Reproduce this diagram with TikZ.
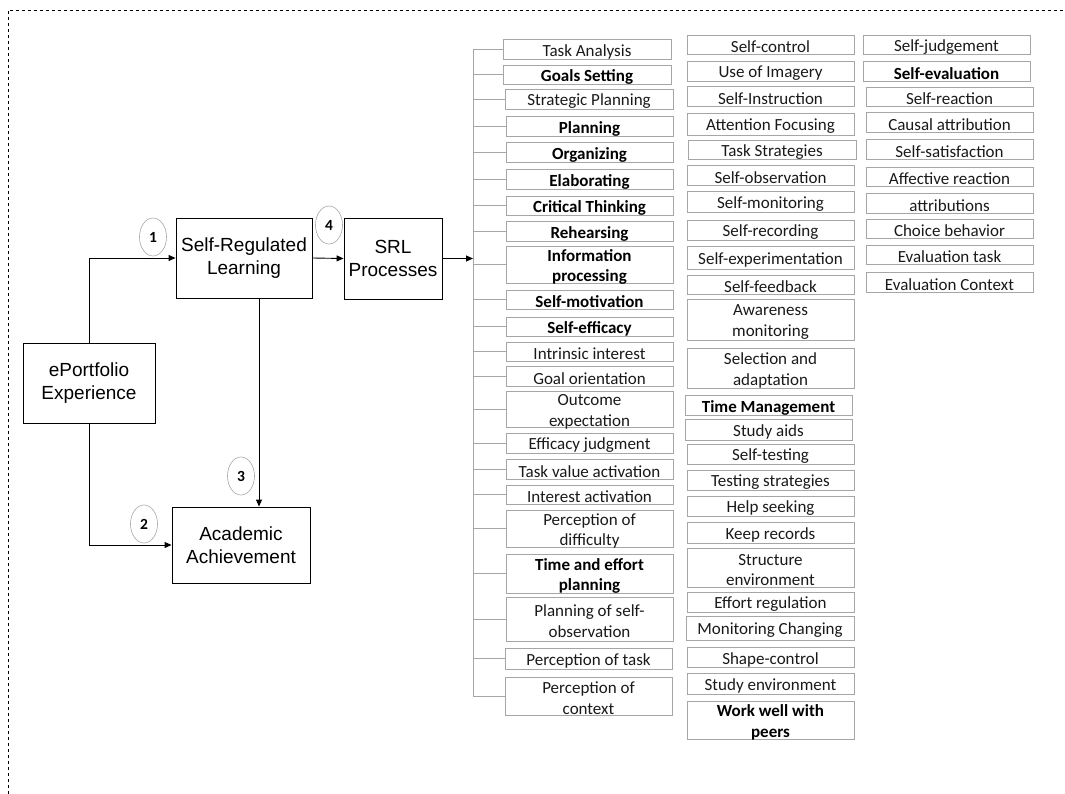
\documentclass[tikz,border=0pt]{standalone}
\usepackage{fontspec}
\usetikzlibrary{arrows.meta,shapes.geometric}
\newfontfamily\carlitofont{Carlito}
\newfontfamily\arialfont{Liberation Sans}

% box placed by its corners (x1,y1)-(x2,y2); its text is a node of its own,
% set a little lower so that the letters sit in the middle of the frame
\newcommand\entrybox[7][]{%
  \pgfmathsetmacro\ebcx{(#3+#5)/2}%
  \pgfmathsetmacro\ebcy{(#4+#6)/2}%
  \pgfmathsetmacro\ebw{#5-#3}%
  \pgfmathsetmacro\ebh{#6-#4}%
  \node[cbox,minimum width=\ebw pt,minimum height=\ebh pt] (#2) at (\ebcx,\ebcy) {};
  \node[ctext,#1] (#2t) at ([yshift=-2.5pt]#2.center) {#7};}

\begin{document}
\begin{tikzpicture}[x=1pt,y=-1pt,
  cbox/.style={draw=gray!70, line width=0.5pt, inner sep=0pt},
  ctext/.style={inner sep=0pt, align=center,
    font=\carlitofont\fontsize{17}{20.8}\selectfont, text=black!90},
  bf/.style={font=\carlitofont\bfseries\fontsize{17}{20.8}\selectfont, text=black},
  mbox/.style={draw, line width=0.9pt, align=center, inner sep=0pt,
    font=\arialfont\fontsize{19}{22.5}\selectfont},
  num/.style={ellipse, draw=gray!70, line width=0.6pt, minimum width=27pt,
    minimum height=38pt, inner sep=0pt, font=\carlitofont\bfseries\fontsize{15.5}{15.5}\selectfont},
  arr/.style={draw, line width=0.9pt, -{Triangle[length=7pt,width=6pt]}},
  stub/.style={draw=gray!70, line width=0.5pt}]
\useasboundingbox (0,0) rectangle (1065,794);

% frame
\draw[dashed, line width=0.6pt] (8,794) -- (8,10) -- (1063,10);

% main model
\node[mbox, minimum width=132pt, minimum height=80pt] (epf) at (89,383) {ePortfolio\\Experience};
\node[mbox, minimum width=136pt, minimum height=80pt] (srl) at (244,258) {Self-Regulated\\Learning};
\node[mbox, minimum width=98pt, minimum height=81pt] (srlp) at (393,258.5) {SRL\\Processes};
\node[mbox, minimum width=138pt, minimum height=76pt] (aca) at (241,545) {Academic\\Achievement};

\draw[arr] (epf.north) |- (srl.west);
\draw[arr] (epf.south) |- (aca.west);
\draw[arr] ([xshift=15pt]srl.south) -- ([xshift=15pt]srl.south |- aca.north);
\draw[arr] (srl.east) -- (srlp.west);

\node[num] (n1) at (153,237) {1};
\node[num] (n2) at (144,524) {2};
\node[num] (n3) at (241,476) {3};
\node[num] (n4) at (329,225) {4};

% first column
\entrybox{c1a}{503}{39}{671}{59}{Task Analysis}
\entrybox[bf]{c1b}{503}{65}{671}{84}{Goals Setting}
\entrybox{c1c}{505}{89}{673}{109}{Strategic Planning}
\entrybox[bf]{c1d}{506}{116}{673}{136}{Planning}
\entrybox[bf]{c1e}{506}{142}{673}{162}{Organizing}
\entrybox[bf]{c1f}{506}{169}{673}{189}{Elaborating}
\entrybox[bf]{c1g}{506}{196}{673}{215}{Critical Thinking}
\entrybox[bf]{c1h}{506}{221}{673}{241}{Rehearsing}
\entrybox[bf]{c1i}{506}{246}{673}{283}{Information\\processing}
\entrybox[bf]{c1j}{506}{290}{673}{309}{Self-motivation}
\entrybox[bf]{c1k}{506}{317}{673}{336}{Self-efficacy}
\entrybox{c1l}{506}{342}{673}{361}{Intrinsic interest}
\entrybox{c1m}{506}{366}{673}{386}{Goal orientation}
\entrybox{c1n}{506}{391}{673}{427}{Outcome\\expectation}
\entrybox{c1o}{506}{433}{673}{453}{Efficacy judgment}
\entrybox{c1p}{506}{459}{673}{479}{Task value activation}
\entrybox{c1q}{506}{485}{673}{504}{Interest activation}
\entrybox{c1r}{506}{510}{673}{547}{Perception of\\difficulty}
\entrybox[bf]{c1s}{506}{554}{673}{593}{Time and effort\\planning}
\entrybox{c1t}{506}{597}{673}{641}{Planning of self-\\observation}
\entrybox{c1u}{505}{648}{672}{669}{Perception of task}
\entrybox{c1v}{505}{677}{672}{715}{Perception of\\context}

% bracket joining the first column
\coordinate (sp) at (473,48);
\draw[stub] (sp |- c1a.west) -- (sp |- c1v.west);
\foreach \b in {c1a,c1b,c1c,c1d,c1e,c1f,c1g,c1h,c1i,c1j,c1k,c1l,c1m,c1n,c1o,c1p,c1q,c1r,c1s,c1t,c1u,c1v}
  \draw[stub] (sp |- \b.west) -- (\b.west);
\draw[arr] (srlp.east) -- (srlp.east -| sp);

% second column
\entrybox{c2a}{687}{35}{854}{54}{Self-control}
\entrybox{c2b}{687}{61}{854}{81}{Use of Imagery}
\entrybox{c2c}{687}{86}{854}{106}{Self-Instruction}
\entrybox{c2d}{687}{113}{854}{135}{Attention Focusing}
\entrybox{c2e}{688}{140}{856}{159}{Task Strategies}
\entrybox{c2f}{687}{165}{854}{185}{Self-observation}
\entrybox{c2g}{687}{191}{854}{212}{Self-monitoring}
\entrybox{c2h}{687}{220}{854}{240}{Self-recording}
\entrybox{c2i}{687}{246}{854}{269}{Self-experimentation}
\entrybox{c2j}{687}{275}{854}{294}{Self-feedback}
\entrybox{c2k}{687}{299}{854}{340}{Awareness\\monitoring}
\entrybox{c2l}{687}{348}{854}{388}{Selection and\\adaptation}
\entrybox[bf]{c2m}{685}{395}{852}{415}{Time Management}
\entrybox{c2n}{685}{419}{852}{440}{Study aids}
\entrybox{c2o}{687}{444}{854}{464}{Self-testing}
\entrybox{c2p}{687}{470}{854}{490}{Testing strategies}
\entrybox{c2q}{687}{496}{854}{516}{Help seeking}
\entrybox{c2r}{687}{522}{854}{543}{Keep records}
\entrybox{c2s}{687}{548}{854}{587}{Structure\\environment}
\entrybox{c2t}{687}{592}{854}{612}{Effort regulation}
\entrybox{c2u}{686}{616}{854}{640}{Monitoring Changing}
\entrybox{c2v}{687}{647}{854}{667}{Shape-control}
\entrybox{c2w}{687}{673}{854}{694}{Study environment}
\entrybox[bf]{c2x}{687}{701}{854}{739}{Work well with\\peers}

% third column
\entrybox{c3a}{863}{35}{1030}{54}{Self-judgement}
\entrybox[bf]{c3b}{863}{61}{1030}{81}{Self-evaluation}
\entrybox{c3c}{866}{87}{1033}{106}{Self-reaction}
\entrybox{c3d}{866}{112}{1033}{132}{Causal attribution}
\entrybox{c3e}{866}{139}{1033}{159}{Self-satisfaction}
\entrybox{c3f}{866}{167}{1033}{186}{Affective reaction}
\entrybox{c3g}{866}{193}{1033}{213}{attributions}
\entrybox{c3h}{866}{219}{1033}{238}{Choice behavior}
\entrybox{c3i}{866}{245}{1033}{264}{Evaluation task}
\entrybox{c3j}{866}{272}{1033}{292}{Evaluation Context}
\end{tikzpicture}
\end{document}
